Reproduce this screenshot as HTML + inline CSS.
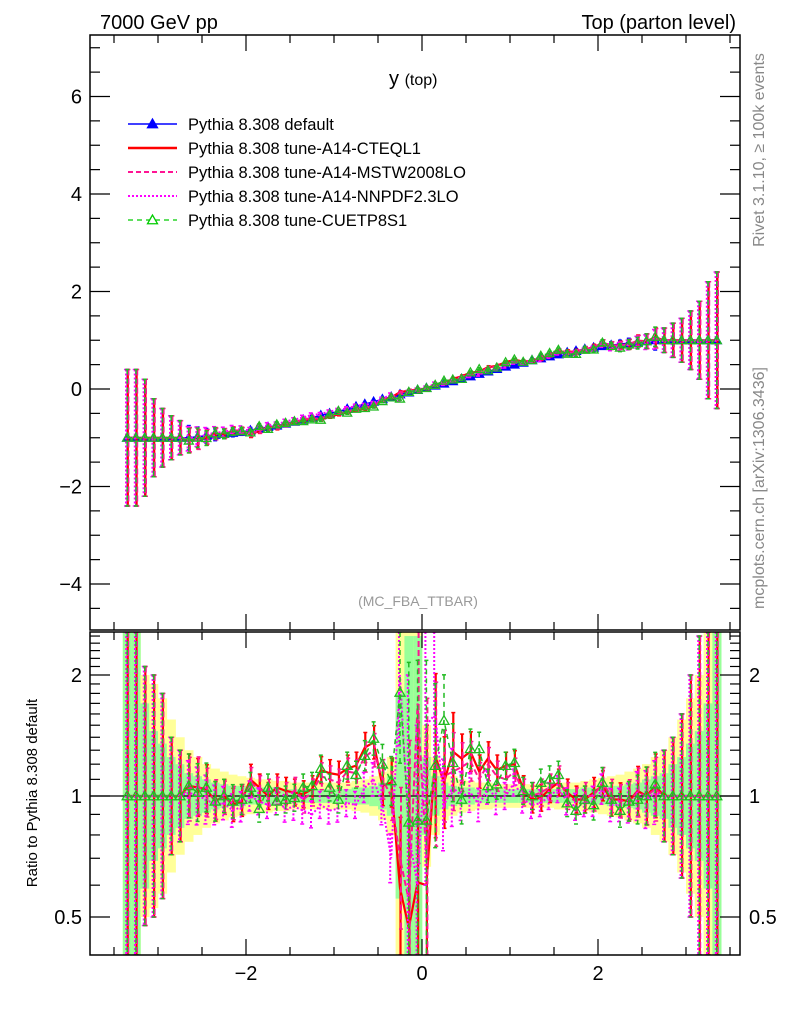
<!DOCTYPE html>
<html><head><meta charset="utf-8"><style>
html,body{margin:0;padding:0;background:#fff;width:786px;height:1024px;overflow:hidden;}
svg{display:block;font-family:"Liberation Sans",sans-serif;}
</style></head><body>
<svg id="chart" width="786" height="1024" viewBox="0 0 786 1024" xmlns="http://www.w3.org/2000/svg">
<defs>
<clipPath id="clipMain"><rect x="90" y="35" width="650" height="595"/></clipPath>
<clipPath id="clipRatio"><rect x="90" y="632" width="650" height="323"/></clipPath>
</defs>
<rect x="0" y="0" width="786" height="1024" fill="#fff"/>
<g id="bandLayer" clip-path="url(#clipRatio)"></g>
<g id="ratioLayer" clip-path="url(#clipRatio)"></g>
<g id="mainLayer" clip-path="url(#clipMain)"></g>
<g id="axisLayer"></g>
<text x="100" y="29" font-size="20">7000 GeV pp</text>
<text x="736" y="29" font-size="20" text-anchor="end">Top (parton level)</text>
<text x="389" y="85" font-size="20">y <tspan font-size="16">(top)</tspan></text>
<text x="418" y="606" font-size="14" fill="#999" text-anchor="middle">(MC_FBA_TTBAR)</text>
<text transform="translate(764,150) rotate(-90)" font-size="16" fill="#888" text-anchor="middle">Rivet 3.1.10, ≥ 100k events</text>
<text transform="translate(764,488) rotate(-90)" font-size="16" fill="#888" text-anchor="middle">mcplots.cern.ch [arXiv:1306.3436]</text>
<text transform="translate(37,793) rotate(-90)" font-size="15" text-anchor="middle">Ratio to Pythia 8.308 default</text>
<g id="legend"></g>
</svg>
<script>
const binCenters=[-3.35,-3.25,-3.15,-3.05,-2.95,-2.85,-2.75,-2.65,-2.55,-2.45,-2.35,-2.25,-2.15,-2.05,-1.95,-1.85,-1.75,-1.65,-1.55,-1.45,-1.35,-1.25,-1.15,-1.05,-0.95,-0.85,-0.75,-0.65,-0.55,-0.45,-0.35,-0.25,-0.15,-0.05,0.05,0.15,0.25,0.35,0.45,0.55,0.65,0.75,0.85,0.95,1.05,1.15,1.25,1.35,1.45,1.55,1.65,1.75,1.85,1.95,2.05,2.15,2.25,2.35,2.45,2.55,2.65,2.75,2.85,2.95,3.05,3.15,3.25,3.35];
const defaultValues=[-1,-1,-1,-1,-1,-1,-1,-1,-0.98,-0.96,-0.94,-0.92,-0.9,-0.88,-0.85,-0.82,-0.78,-0.75,-0.71,-0.67,-0.63,-0.59,-0.54,-0.5,-0.46,-0.41,-0.36,-0.31,-0.26,-0.21,-0.16,-0.11,-0.07,-0.02,0.02,0.07,0.11,0.16,0.21,0.26,0.31,0.36,0.41,0.46,0.5,0.54,0.59,0.63,0.67,0.71,0.75,0.78,0.82,0.85,0.88,0.9,0.92,0.94,0.96,0.98,1,1,1,1,1,1,1,1];
const defaultErrors=[1.4,1.4,1.2,0.8,0.6,0.45,0.35,0.25,0.2,0.15,0.12,0.1,0.08,0.07,0.06,0.05,0.05,0.05,0.04,0.04,0.04,0.04,0.03,0.03,0.03,0.03,0.03,0.03,0.03,0.03,0.03,0.03,0.03,0.03,0.03,0.03,0.03,0.03,0.03,0.03,0.03,0.03,0.03,0.03,0.03,0.03,0.03,0.04,0.04,0.04,0.04,0.05,0.05,0.05,0.06,0.07,0.08,0.1,0.12,0.15,0.2,0.25,0.35,0.45,0.6,0.8,1.2,1.4];
const ratioCTEQ=[1,1,1,1,1,1,1,1.06,1.05,1.04,0.97,1,0.95,0.97,1.1,1.05,1,1.05,1.03,1.02,1.01,1.04,1.16,1.14,1.13,1.17,1.19,1.32,1.36,1.06,1.08,0.59,0.47,0.61,0.6,1.26,1.08,1.29,1.24,1.29,1.15,1.24,1.16,1.19,1.2,1.04,0.98,0.99,1.04,1.08,1.02,0.98,0.98,1.02,1.06,0.98,0.98,0.97,1.03,1,1.06,1,1,1,1,1,1,1];
const ratioMSTW=[1,1,1,1,1,1,1,1.04,1.06,1.02,0.98,0.99,0.96,0.98,1.08,1.04,1.02,1.03,1.0,1.03,0.98,1.02,1.12,1.1,1.08,1.15,1.14,1.25,1.3,1.1,1.0,0.7,0.55,1.7,0.7,1.2,1.12,1.15,1.18,1.22,1.1,1.2,1.12,1.1,1.15,1.02,1.0,1.02,1.05,1.1,1.0,0.97,1.0,1.0,1.08,1.0,0.97,0.98,1.02,1.0,1.04,1,1,1,1,1,1,1];
const ratioNNPDF=[1,1,1,1,1,1,1,1.02,1.0,0.98,0.95,0.96,0.92,0.94,1.0,0.97,0.95,0.97,0.93,0.94,0.92,0.9,0.95,0.92,0.93,0.96,0.95,1.05,1.1,0.95,0.7,2.0,0.8,0.6,1.5,1.6,0.95,1.05,1.0,1.02,0.95,1.05,0.98,1.0,1.08,0.98,0.95,0.96,1.0,1.04,0.97,0.94,0.96,0.97,1.04,0.95,0.95,0.96,1.0,0.98,1.02,1,1,1,1,1,1,1];
const ratioCUETP=[1,1,1,1,1,1,1,1.06,1.02,1.05,0.97,1,0.97,0.98,1.05,0.93,1.05,0.97,0.98,0.99,1.05,1.06,1.17,1.05,0.98,1.19,1.13,1.26,1.39,1.2,1.09,1.81,0.86,0.87,0.87,1.19,1.54,1.21,0.98,1.31,1.31,1.06,1.07,1.19,1.21,1.03,1.0,1.08,1.1,1.13,0.96,0.92,0.98,0.95,1.08,0.98,0.92,0.97,0.98,1.0,1.07,1,1,1,1,1,1,1];
const ratioErrFactor=[3,3,2.1,2.0,1.8,1.4,1.3,1.2,1.18,1.15,1.12,1.1,1.1,1.09,1.09,1.08,1.08,1.08,1.08,1.08,1.08,1.08,1.08,1.08,1.08,1.08,1.08,1.09,1.1,1.12,1.15,1.5,2.5,2.5,2.5,1.6,1.3,1.25,1.15,1.12,1.1,1.1,1.09,1.08,1.08,1.08,1.08,1.08,1.08,1.08,1.08,1.08,1.08,1.09,1.09,1.1,1.1,1.12,1.15,1.18,1.2,1.3,1.4,1.6,2.0,2.5,3,3];
const bandYellow=[3,3,2.0,1.9,1.75,1.55,1.4,1.3,1.25,1.2,1.17,1.15,1.13,1.12,1.11,1.1,1.1,1.09,1.09,1.08,1.08,1.08,1.08,1.08,1.08,1.08,1.09,1.1,1.12,1.15,1.25,3,3,3,1.5,1.25,1.15,1.12,1.1,1.09,1.08,1.08,1.07,1.07,1.07,1.07,1.07,1.07,1.07,1.08,1.08,1.08,1.09,1.1,1.11,1.12,1.13,1.15,1.17,1.2,1.25,1.3,1.4,1.55,1.75,2.0,3,3];
const bandGreen=[3,3,1.7,1.45,1.35,1.25,1.2,1.14,1.12,1.1,1.08,1.07,1.06,1.06,1.05,1.05,1.05,1.05,1.04,1.04,1.04,1.04,1.04,1.04,1.04,1.04,1.05,1.05,1.06,1.08,1.12,1.8,2.5,2.5,1.25,1.12,1.08,1.06,1.05,1.05,1.04,1.04,1.04,1.04,1.04,1.04,1.04,1.04,1.04,1.04,1.04,1.04,1.05,1.05,1.05,1.06,1.06,1.07,1.08,1.1,1.12,1.14,1.2,1.25,1.35,1.45,1.7,3];
const mainYTicks=[-4,-2,0,2,4,6];
const ratioYTicks=[0.5,1,2];
const xTicks=[-2,0,2];

const NS='http://www.w3.org/2000/svg';
const X=v=>422+88*v;
const Y=v=>Math.min(630,Math.max(35,389-48.75*v));
const R=v=>Math.min(955,Math.max(632,796-121*Math.log2(v)));
const BW=8.8;
function mk(tag,attrs,parent){const e=document.createElementNS(NS,tag);for(const k in attrs)e.setAttribute(k,attrs[k]);parent.appendChild(e);return e;}
const band=document.getElementById('bandLayer'),ratio=document.getElementById('ratioLayer'),main=document.getElementById('mainLayer'),axes=document.getElementById('axisLayer'),legend=document.getElementById('legend');

binCenters.forEach((c,i)=>{
  const fy=bandYellow[i],fg=bandGreen[i];
  const ry=mk('rect',{x:X(c)-BW/2,y:R(fy),width:BW+0.3,height:R(1/fy)-R(fy),fill:'#ffff99'},band);
  
  
  const rg=mk('rect',{x:X(c)-BW/2,y:R(fg),width:BW+0.3,height:R(1/fg)-R(fg),fill:'#99ff99'},band);
  
  
});
mk('line',{x1:90,x2:740,y1:R(1),y2:R(1),stroke:'#000','stroke-width':1.2},ratio);

const series=[
 {name:'cteql1',ratio:ratioCTEQ,color:'#ff0000',dash:'',w:2.2,off:1},
 {name:'mstw2008lo',ratio:ratioMSTW,color:'#ff1493',dash:'6,3',w:2,off:2},
 {name:'nnpdf23lo',ratio:ratioNNPDF,color:'#ff00ff',dash:'2,2',w:2,off:-2},
 {name:'cuetp8s1',ratio:ratioCUETP,color:'#22bb22',dash:'5,4',w:1.5,off:0,tri:true}
];
function tri(parent,x,y,fill,stroke,s){return mk('polygon',{points:`${x},${y-s} ${x-s},${y+s*0.75} ${x+s},${y+s*0.75}`,fill:fill,stroke:stroke,'stroke-width':1.3},parent);}

series.forEach(s=>{
  const g=mk('g',{},ratio);
  
  
  binCenters.forEach((c,i)=>{
    const v=s.ratio[i],f=ratioErrFactor[i],x=X(c)+s.off*0.5;
    mk('line',{x1:x,x2:x,y1:R(v*f),y2:R(v/f),stroke:s.color,'stroke-width':s.w,'stroke-dasharray':s.dash},g);
    mk('line',{x1:x-2,x2:x+2,y1:R(v*f),y2:R(v*f),stroke:s.color,'stroke-width':1.5},g);
    mk('line',{x1:x-2,x2:x+2,y1:R(v/f),y2:R(v/f),stroke:s.color,'stroke-width':1.5},g);
  });
  const pts=binCenters.map((c,i)=>X(c)+','+R(s.ratio[i])).join(' ');
  mk('polyline',{points:pts,fill:'none',stroke:s.color,'stroke-width':s.w,'stroke-dasharray':s.dash},g);
  if(s.tri) binCenters.forEach((c,i)=>{const t=tri(g,X(c),R(s.ratio[i]),'none',s.color,5);
    
    });
});

const mainSeries=[{name:'default',ratio:null,color:'#0000ff',dash:'',w:1.5,off:0}].concat(series);
mainSeries.forEach(s=>{
  const g=mk('g',{},main);
  
  
  const vals=defaultValues.map((d,i)=>s.ratio?d*s.ratio[i]:d);
  binCenters.forEach((c,i)=>{
    const v=vals[i],e=defaultErrors[i],x=X(c)+s.off*0.6;
    mk('line',{x1:x,x2:x,y1:Y(v+e),y2:Y(v-e),stroke:s.color,'stroke-width':s.w,'stroke-dasharray':s.dash},g);
    mk('line',{x1:x-2,x2:x+2,y1:Y(v+e),y2:Y(v+e),stroke:s.color,'stroke-width':1.5},g);
    mk('line',{x1:x-2,x2:x+2,y1:Y(v-e),y2:Y(v-e),stroke:s.color,'stroke-width':1.5},g);
  });
  mk('polyline',{points:binCenters.map((c,i)=>X(c)+','+Y(vals[i])).join(' '),fill:'none',stroke:s.color,'stroke-width':s.w,'stroke-dasharray':s.dash},g);
  if(!s.ratio) binCenters.forEach((c,i)=>{const t=tri(g,X(c),Y(vals[i]),'#0000ff','#0000ff',4.5);
    
    });
  if(s.tri) binCenters.forEach((c,i)=>{const t=tri(g,X(c),Y(vals[i]),'none',s.color,4.5);
    
    });
});

[[35,630],[632,955]].forEach(([t,b])=>{
  const fr=mk('rect',{x:90,y:t,width:650,height:b-t,fill:'none',stroke:'#000','stroke-width':1.5},axes);
  
  
  for(let v=-3.5;v<=3.5;v+=0.5){const x=X(v);if(x<90||x>740)continue;
    const major=Math.abs(v-Math.round(v/2)*2)<1e-6&&Math.abs(v%1)<1e-6;
    const L=major?16:8;
    mk('line',{x1:x,x2:x,y1:b,y2:b-L,stroke:'#000','stroke-width':1.2},axes);
    mk('line',{x1:x,x2:x,y1:t,y2:t+L,stroke:'#000','stroke-width':1.2},axes);}
});
for(let v=-4.5;v<=7;v+=0.5){const y=389-48.75*v;if(y<35||y>630)continue;const major=Math.abs(v%2)<1e-6;const L=major?20:10;
  mk('line',{x1:90,x2:90+L,y1:y,y2:y,stroke:'#000','stroke-width':1.2},axes);
  mk('line',{x1:740,x2:740-L,y1:y,y2:y,stroke:'#000','stroke-width':1.2},axes);}
[0.5,0.6,0.7,0.8,0.9,1,1.1,1.2,1.3,1.4,1.5,1.6,1.7,1.8,1.9,2,2.1,2.2,2.3,2.4,2.5].forEach(v=>{const y=R(v);if(y<=632||y>=955)return;
  const major=ratioYTicks.includes(v);const L=major?20:10;
  mk('line',{x1:90,x2:90+L,y1:y,y2:y,stroke:'#000','stroke-width':1.2},axes);
  mk('line',{x1:740,x2:740-L,y1:y,y2:y,stroke:'#000','stroke-width':1.2},axes);});
mainYTicks.forEach(v=>{const t=mk('text',{x:82,y:Y(v)+7,'font-size':20,'text-anchor':'end'},axes);t.textContent=v<0?'\u2212'+(-v):String(v);
  
  });
ratioYTicks.forEach(v=>{
  const t=mk('text',{x:82,y:R(v)+7,'font-size':20,'text-anchor':'end'},axes);t.textContent=String(v);
  
  
  const t2=mk('text',{x:749,y:R(v)+7,'font-size':20},axes);t2.textContent=String(v);
  
  });
xTicks.forEach(v=>{const t=mk('text',{x:X(v),y:980,'font-size':20,'text-anchor':'middle'},axes);t.textContent=v<0?'\u2212'+(-v):String(v);
  
  });

const legItems=[['Pythia 8.308 default','#0000ff','',1.5,'fill'],['Pythia 8.308 tune-A14-CTEQL1','#ff0000','',2.5,''],['Pythia 8.308 tune-A14-MSTW2008LO','#ff1493','5,3',2,''],['Pythia 8.308 tune-A14-NNPDF2.3LO','#ff00ff','2,2',2,''],['Pythia 8.308 tune-CUETP8S1','#00cc00','5,4',1.3,'open']];
legItems.forEach((it,i)=>{const y=124+24*i;const g=mk('g',{},legend);
  
  
  mk('line',{x1:128,x2:177,y1:y,y2:y,stroke:it[1],'stroke-width':it[3],'stroke-dasharray':it[2]},g);
  if(it[4]==='fill')tri(g,152.5,y,'#0000ff','#0000ff',5);
  if(it[4]==='open')tri(g,152.5,y,'#fff','#00cc00',5);
  const t=mk('text',{x:188,y:y+6,'font-size':16.5},g);t.textContent=it[0];});
</script>
</body></html>
